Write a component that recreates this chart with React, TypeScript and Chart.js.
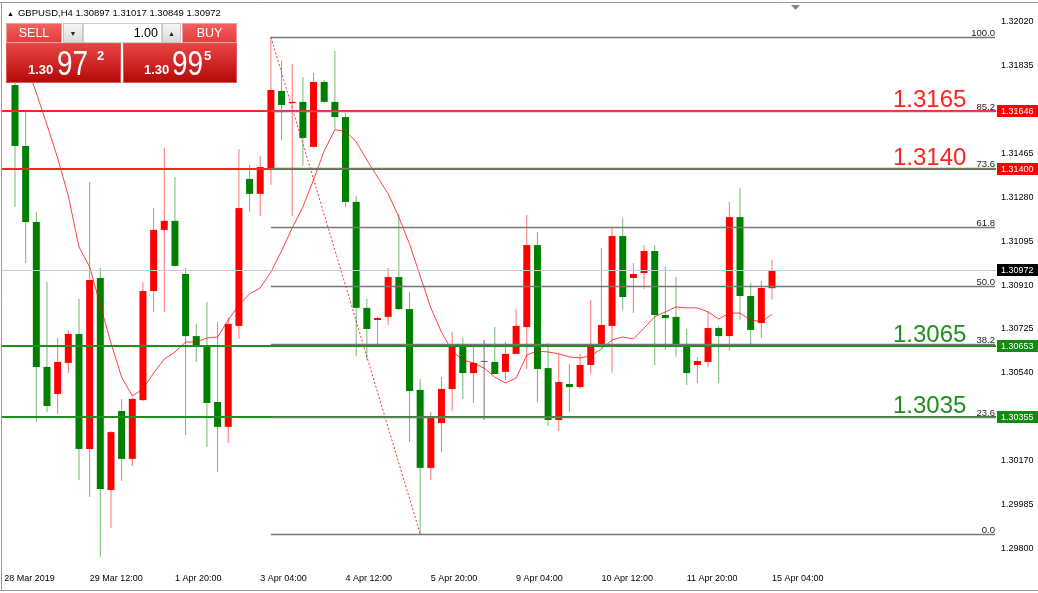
import React, { useEffect, useRef } from "react";
import { Chart, registerables } from "chart.js";

Chart.register(...registerables);

const FONT = "'Liberation Sans', Arial, sans-serif";

// ---- data (GBPUSD H4) ----
const symbol = "GBPUSD";
const timeframe = "H4";

const opens = [
  1.31754, 1.31497, 1.31176, 1.30565, 1.30451, 1.30582, 1.30704, 1.30219, 1.3094, 1.30046,
  1.30379, 1.30177, 1.30425, 1.30885, 1.31143, 1.31181, 1.30957, 1.30695, 1.30653, 1.30417,
  1.30312, 1.30738, 1.31358, 1.31295, 1.314, 1.31729, 1.31678, 1.31683, 1.31493, 1.31767,
  1.31683, 1.31619, 1.31261, 1.30814, 1.30763, 1.30776, 1.30944, 1.30809, 1.30468, 1.30139,
  1.30328, 1.30472, 1.30653, 1.30539, 1.30586, 1.30586, 1.30544, 1.3062, 1.30733, 1.31079,
  1.3056, 1.30341, 1.30493, 1.3048, 1.30573, 1.30649, 1.30738, 1.31117, 1.3094, 1.30961,
  1.31054, 1.30784, 1.30776, 1.30662, 1.30573, 1.30586, 1.30729, 1.30695, 1.31197, 1.30864,
  1.3075, 1.30897,
];
const highs = [
  1.31818, 1.31649, 1.31219, 1.30923, 1.30687, 1.30721, 1.30852, 1.31345, 1.30982, 1.30295,
  1.3043, 1.30434, 1.30923, 1.31235, 1.31489, 1.31366, 1.30982, 1.30746, 1.30839, 1.30755,
  1.30771, 1.31484, 1.31417, 1.31455, 1.31956, 1.31856, 1.31843, 1.31788, 1.31805, 1.31776,
  1.31898, 1.31636, 1.31286, 1.30852, 1.30776, 1.30982, 1.3121, 1.30881, 1.30514, 1.30375,
  1.30522, 1.30712, 1.30687, 1.30649, 1.30679, 1.30733, 1.3067, 1.30809, 1.31206, 1.31134,
  1.30666, 1.3062, 1.30577, 1.3062, 1.30847, 1.31067, 1.31151, 1.31193, 1.31003, 1.31079,
  1.31079, 1.30987, 1.30944, 1.30725, 1.30607, 1.30801, 1.30738, 1.31261, 1.3132, 1.30919,
  1.30928, 1.31017,
];
const lows = [
  1.3124, 1.31003, 1.30333, 1.30375, 1.30366, 1.30539, 1.30088, 1.30016, 1.29763, 1.29885,
  1.30084, 1.30147, 1.3042, 1.30797, 1.30797, 1.30988, 1.30278, 1.30586, 1.30227, 1.30122,
  1.30244, 1.30683, 1.31219, 1.31202, 1.31333, 1.31522, 1.31202, 1.31413, 1.3149, 1.31678,
  1.31565, 1.3124, 1.30611, 1.30594, 1.30653, 1.30742, 1.30805, 1.30248, 1.2986, 1.30088,
  1.30206, 1.30379, 1.3043, 1.30413, 1.30341, 1.30535, 1.3051, 1.3062, 1.30556, 1.30417,
  1.30316, 1.30295, 1.30375, 1.30472, 1.30535, 1.30645, 1.30539, 1.30805, 1.30792, 1.30894,
  1.30573, 1.30636, 1.30607, 1.30489, 1.30497, 1.30565, 1.30497, 1.30632, 1.30763, 1.30662,
  1.30687, 1.30849,
];
const closes = [
  1.31497, 1.31176, 1.30565, 1.304, 1.30586, 1.30704, 1.30219, 1.30932, 1.3005, 1.3029,
  1.30177, 1.3043, 1.30885, 1.31143, 1.31181, 1.30991, 1.30695, 1.30653, 1.30413, 1.30312,
  1.30746, 1.31235, 1.31295, 1.31408, 1.31733, 1.3167, 1.31683, 1.31531, 1.31767, 1.31683,
  1.31619, 1.31261, 1.30814, 1.30725, 1.30771, 1.30944, 1.30809, 1.30463, 1.30139, 1.30358,
  1.30472, 1.30649, 1.30539, 1.30582, 1.30586, 1.30535, 1.3062, 1.30738, 1.31079, 1.30556,
  1.30341, 1.30501, 1.3048, 1.30573, 1.30649, 1.30742, 1.31117, 1.3086, 1.30957, 1.31054,
  1.30784, 1.30771, 1.30653, 1.30539, 1.3059, 1.30729, 1.30695, 1.31197, 1.30864, 1.30721,
  1.30898, 1.30972,
];
const maValues = [
  1.31961, 1.31847, 1.31721, 1.31586, 1.31446, 1.31286, 1.31071, 1.30987, 1.30826, 1.30666,
  1.30522, 1.30442, 1.30472, 1.30539, 1.30598, 1.30628, 1.3067, 1.3067, 1.30687, 1.30691,
  1.30763, 1.30826, 1.30873, 1.30898, 1.30965, 1.31054, 1.31151, 1.3124, 1.31354, 1.31476,
  1.31565, 1.3156, 1.31514, 1.31438, 1.31366, 1.31295, 1.31197, 1.31084, 1.30949, 1.30814,
  1.30712, 1.30632, 1.30594, 1.30582, 1.3056, 1.30522, 1.30497, 1.30518, 1.30615, 1.30632,
  1.30628, 1.3062, 1.30607, 1.30603, 1.30611, 1.30641, 1.30679, 1.30691, 1.30683, 1.30729,
  1.30776, 1.30797, 1.30818, 1.30814, 1.30814, 1.30797, 1.30767, 1.30792, 1.30792, 1.30763,
  1.30755, 1.30788,
];

const timeTickIndices = [-1, 7, 15, 23, 31, 39, 47, 55, 63, 71];
const timeTickLabels = [
  "28 Mar 2019", "29 Mar 12:00", "1 Apr 20:00", "3 Apr 04:00", "4 Apr 12:00",
  "5 Apr 20:00", "9 Apr 04:00", "10 Apr 12:00", "11 Apr 20:00", "15 Apr 04:00",
];
const priceTicks = [
  1.298, 1.29985, 1.3017, 1.30355, 1.3054, 1.30725, 1.3091, 1.31095, 1.3128, 1.31465,
  1.3165, 1.31835, 1.3202,
];
const priceMin = 1.29721;
const priceMax = 1.321;
const xMin = -1.22;
const xMax = 92.01;

const resistanceLevels = [1.31646, 1.314];
const resistanceTexts = ["1.3165", "1.3140"];
const supportLevels = [1.30653, 1.30355];
const supportTexts = ["1.3065", "1.3035"];
const currentPrice = 1.30972;
const askPrice = 1.30995;

const fibHigh = 1.31956;
const fibLow = 1.2986;
const fibStartIndex = 24;
const fibEndIndex = 38;
const fibPercents = [0, 23.6, 38.2, 50, 61.8, 73.6, 85.2, 100];

// ---- colours ----
const UP = "#ff0000";
const DOWN = "#008000";
const DOJI = "#5a5a5a";
const RED_LINE = "#ff2323";
const GREEN_LINE = "#1f8f1f";

const bodyColor = (i: number) =>
  closes[i] > opens[i] ? UP : closes[i] < opens[i] ? DOWN : DOJI;
const wickColor = (i: number) =>
  closes[i] > opens[i]
    ? "rgba(255,0,0,0.55)"
    : closes[i] < opens[i]
    ? "rgba(0,128,0,0.55)"
    : "rgba(80,80,80,0.8)";

const overlayPlugin = {
  id: "mt4overlay",
  afterDatasetsDraw(chart: any) {
    const { ctx, chartArea, scales } = chart;
    const x = scales.x;
    const y = scales.y;
    ctx.save();
    // current price line
    const cy = Math.round(y.getPixelForValue(currentPrice)) + 0.5;
    ctx.strokeStyle = "#c2c9d6";
    ctx.lineWidth = 1;
    ctx.beginPath();
    ctx.moveTo(chartArea.left, cy);
    ctx.lineTo(chartArea.right, cy);
    ctx.stroke();

    // support / resistance
    const drawLevel = (v: number, color: string) => {
      const py = Math.round(y.getPixelForValue(v));
      ctx.strokeStyle = color;
      ctx.lineWidth = 2;
      ctx.beginPath();
      ctx.moveTo(chartArea.left, py);
      ctx.lineTo(chartArea.right, py);
      ctx.stroke();
    };
    resistanceLevels.forEach((v) => drawLevel(v, RED_LINE));
    supportLevels.forEach((v) => drawLevel(v, GREEN_LINE));

    // fibonacci
    const fx = x.getPixelForValue(fibStartIndex);
    ctx.font = `9.5px ${FONT}`;
    ctx.textAlign = "right";
    ctx.textBaseline = "alphabetic";
    fibPercents.forEach((p) => {
      const v = fibLow + ((fibHigh - fibLow) * p) / 100;
      const py = Math.round(y.getPixelForValue(v)) + 0.5;
      ctx.strokeStyle = "#767676";
      ctx.lineWidth = 1.3;
      ctx.beginPath();
      ctx.moveTo(fx, py);
      ctx.lineTo(chartArea.right - 1, py);
      ctx.stroke();
      ctx.fillStyle = "#222";
      ctx.fillText(p.toFixed(1), chartArea.right - 1, py - 2);
    });

    // big level texts
    ctx.font = `24px ${FONT}`;
    ctx.textAlign = "left";
    ctx.textBaseline = "alphabetic";
    const tx = chartArea.right - 103;
    resistanceLevels.forEach((v, i) => {
      ctx.fillStyle = RED_LINE;
      ctx.fillText(resistanceTexts[i], tx, Math.round(y.getPixelForValue(v)) - 4);
    });
    supportLevels.forEach((v, i) => {
      ctx.fillStyle = GREEN_LINE;
      ctx.fillText(supportTexts[i], tx, Math.round(y.getPixelForValue(v)) - 4);
    });
    ctx.restore();
  },
  afterDraw(chart: any) {
    const { ctx, chartArea, scales, width, height } = chart;
    const y = scales.y;
    ctx.save();
    // price tags
    const tag = (v: number, bg: string) => {
      const py = Math.round(y.getPixelForValue(v));
      ctx.fillStyle = bg;
      ctx.fillRect(chartArea.right + 1, py - 6, width - chartArea.right - 1, 12);
      ctx.fillStyle = "#fff";
      ctx.font = `9px ${FONT}`;
      ctx.textAlign = "left";
      ctx.textBaseline = "middle";
      ctx.fillText(v.toFixed(5), chartArea.right + 5, py + 0.5);
    };
    resistanceLevels.forEach((v) => tag(v, "#ff0000"));
    supportLevels.forEach((v) => tag(v, "#138a13"));
    tag(currentPrice, "#000000");

    // frame
    ctx.strokeStyle = "#9a9a9a";
    ctx.lineWidth = 1;
    ctx.beginPath();
    ctx.moveTo(0, 2.5);
    ctx.lineTo(width, 2.5);
    ctx.moveTo(1.5, 2);
    ctx.lineTo(1.5, height - 2);
    ctx.moveTo(0, height - 2.5);
    ctx.lineTo(width, height - 2.5);
    ctx.stroke();

    // chart shift marker
    ctx.fillStyle = "#7d8896";
    ctx.beginPath();
    ctx.moveTo(791, 5);
    ctx.lineTo(800, 5);
    ctx.lineTo(795.5, 10);
    ctx.closePath();
    ctx.fill();
    ctx.restore();
  },
};

export default function App() {
  const ref = useRef<HTMLCanvasElement>(null);

  useEffect(() => {
    if (!ref.current) return;
    const idx = opens.map((_, i) => i);
    const chart = new Chart(ref.current, {
      type: "bar",
      data: {
        datasets: [
          {
            type: "line",
            label: "trend",
            data: [
              { x: fibStartIndex, y: fibHigh },
              { x: fibEndIndex, y: fibLow },
            ],
            borderColor: "rgba(255,0,0,0.8)",
            borderWidth: 1,
            borderDash: [2, 2],
            pointRadius: 0,
            order: 0,
          } as any,
          {
            type: "line",
            label: "MA",
            data: idx.map((i) => ({ x: i, y: maValues[i] })),
            borderColor: "rgba(255,0,0,0.75)",
            borderWidth: 1,
            pointRadius: 0,
            tension: 0,
            order: 1,
          } as any,
          {
            label: "body",
            data: idx.map((i) => ({ x: i, y: [opens[i], closes[i]] })),
            backgroundColor: idx.map(bodyColor),
            barThickness: 7,
            minBarLength: 1,
            grouped: false,
            inflateAmount: 0,
            borderWidth: 0,
            order: 2,
          } as any,
          {
            label: "wick",
            data: idx.map((i) => ({ x: i, y: [lows[i], highs[i]] })),
            backgroundColor: idx.map(wickColor),
            barThickness: 1,
            grouped: false,
            inflateAmount: 0,
            borderWidth: 0,
            order: 3,
          } as any,
        ],
      },
      options: {
        responsive: false,
        maintainAspectRatio: false,
        devicePixelRatio: 1,
        animation: false,
        events: [],
        layout: { padding: { top: 3, left: 2, right: 0, bottom: 0 } },
        plugins: {
          legend: { display: false },
          tooltip: { enabled: false },
        },
        scales: {
          x: {
            type: "linear",
            min: xMin,
            max: xMax,
            offset: false,
            grid: { display: false, drawTicks: false },
            border: { display: false },
            afterBuildTicks: (s: any) => {
              s.ticks = timeTickIndices.map((v) => ({ value: v }));
            },
            afterFit: (s: any) => {
              s.height = 26;
              s.paddingLeft = 0;
              s.paddingRight = 0;
            },
            ticks: {
              autoSkip: false,
              maxRotation: 0,
              minRotation: 0,
              align: "start",
              padding: 6,
              color: "#000",
              font: { family: FONT, size: 9 },
              callback: (v: any) => {
                const k = timeTickIndices.indexOf(Number(v));
                return k >= 0 ? timeTickLabels[k] : "";
              },
            },
          },
          y: {
            type: "linear",
            position: "right",
            min: priceMin,
            max: priceMax,
            grid: { display: false, drawTicks: false },
            border: { display: false },
            afterBuildTicks: (s: any) => {
              s.ticks = priceTicks.map((v) => ({ value: v }));
            },
            afterFit: (s: any) => {
              s.width = 42;
              s.paddingTop = 0;
              s.paddingBottom = 0;
            },
            ticks: {
              padding: 5,
              color: "#000",
              font: { family: FONT, size: 9 },
              callback: (v: any) => Number(v).toFixed(5),
            },
          },
        },
      } as any,
      plugins: [overlayPlugin as any],
    });
    return () => chart.destroy();
  }, []);

  const last = opens.length - 1;
  const titleText = `${symbol},${timeframe} ${opens[last].toFixed(5)} ${highs[last].toFixed(5)} ${lows[last].toFixed(5)} ${closes[last].toFixed(5)}`;
  const split = (p: number) => {
    const s = p.toFixed(5);
    return [s.slice(0, 4), s.slice(4, 6), s.slice(6)];
  };
  const bid = split(closes[last]);
  const ask = split(askPrice);

  const redBtn: React.CSSProperties = {
    position: "absolute",
    top: 23,
    height: 20,
    boxSizing: "border-box",
    background: "linear-gradient(#f26060, #e43d3d)",
    border: "1px solid #f39a9a",
    color: "#fff",
    fontSize: 12.5,
    display: "flex",
    alignItems: "center",
    justifyContent: "center",
  };
  const greyBtn: React.CSSProperties = {
    position: "absolute",
    top: 23,
    height: 20,
    boxSizing: "border-box",
    background: "linear-gradient(#f6f6f6, #dadada)",
    border: "1px solid #c6c6c6",
    color: "#222",
    fontSize: 7,
    display: "flex",
    alignItems: "center",
    justifyContent: "center",
  };
  const bigBox: React.CSSProperties = {
    position: "absolute",
    top: 43,
    height: 40,
    boxSizing: "border-box",
    background: "linear-gradient(#e84444, #b60909)",
    border: "1px solid #d75a5a",
    color: "#fff",
  };
  const small: React.CSSProperties = {
    position: "absolute",
    top: 19,
    fontSize: 13,
    lineHeight: "13px",
    fontWeight: "bold",
  };
  const big: React.CSSProperties = {
    position: "absolute",
    top: 1,
    fontSize: 35,
    lineHeight: "35px",
    transform: "scaleX(0.8)",
    transformOrigin: "left",
  };
  const sup: React.CSSProperties = {
    position: "absolute",
    top: 5,
    fontSize: 13,
    lineHeight: "13px",
    fontWeight: "bold",
  };

  return (
    <div
      style={{
        position: "fixed",
        left: 0,
        top: 0,
        width: 1038,
        height: 593,
        background: "#fff",
        overflow: "hidden",
        fontFamily: FONT,
      }}
    >
      <canvas
        ref={ref}
        width={1038}
        height={593}
        style={{ position: "absolute", left: 0, top: 0, width: 1038, height: 593 }}
      />
      <div
        style={{
          position: "absolute",
          left: 7,
          top: 7,
          fontSize: 9.5,
          lineHeight: "12px",
          color: "#000",
          whiteSpace: "nowrap",
        }}
      >
        <span style={{ fontSize: 7, marginRight: 4 }}>▲</span>
        {titleText}
      </div>
      <div style={{ ...redBtn, left: 6, width: 56 }}>SELL</div>
      <div style={{ ...greyBtn, left: 63, width: 20 }}>▼</div>
      <div
        style={{
          position: "absolute",
          left: 83,
          top: 23,
          width: 79,
          height: 20,
          boxSizing: "border-box",
          background: "#fff",
          border: "1px solid #d0d0d0",
          fontSize: 12.5,
          lineHeight: "18px",
          textAlign: "right",
          paddingRight: 3,
          color: "#000",
        }}
      >
        1.00
      </div>
      <div style={{ ...greyBtn, left: 162, width: 19 }}>▲</div>
      <div style={{ ...redBtn, left: 182, width: 55 }}>BUY</div>
      <div style={{ ...bigBox, left: 6, width: 115 }}>
        <span style={{ ...small, left: 21 }}>{bid[0]}</span>
        <span style={{ ...big, left: 50 }}>{bid[1]}</span>
        <span style={{ ...sup, left: 90 }}>{bid[2]}</span>
      </div>
      <div style={{ ...bigBox, left: 123, width: 114 }}>
        <span style={{ ...small, left: 20 }}>{ask[0]}</span>
        <span style={{ ...big, left: 48 }}>{ask[1]}</span>
        <span style={{ ...sup, left: 80 }}>{ask[2]}</span>
      </div>
    </div>
  );
}
